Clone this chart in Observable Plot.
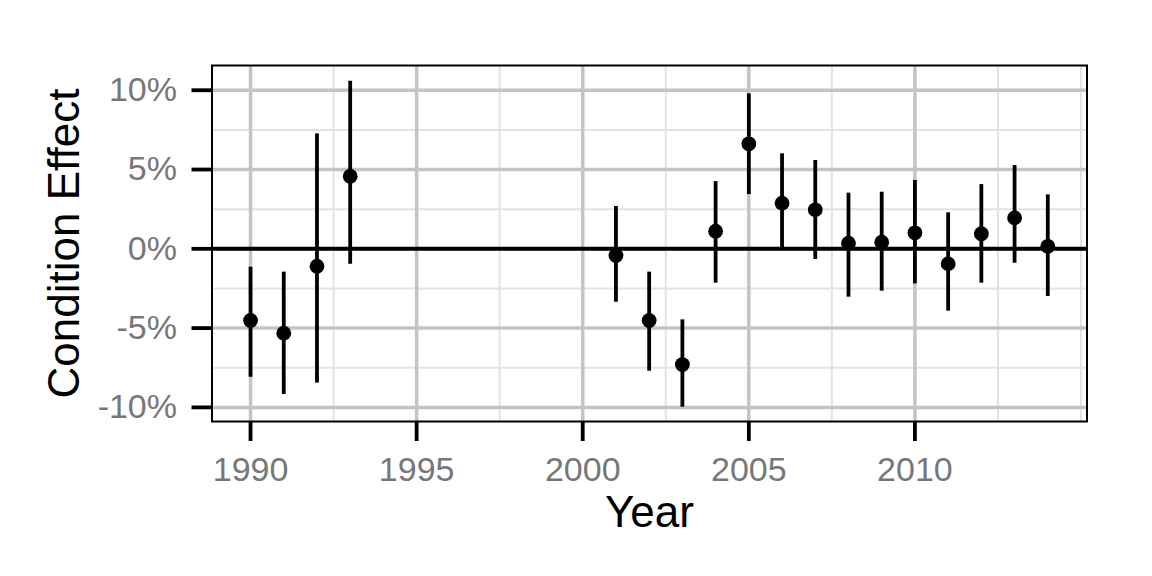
<!DOCTYPE html>
<html>
<head>
<meta charset="utf-8">
<script src="https://cdn.jsdelivr.net/npm/d3@7"></script>
<script src="https://cdn.jsdelivr.net/npm/@observablehq/plot@0.6"></script>
<style>
  html, body { margin: 0; padding: 0; background: #fff; }
</style>
</head>
<body>
<div id="chart"></div>
<script>
// Data (percent)
const years     = [1990, 1991, 1992, 1993, 2001, 2002, 2003, 2004, 2005, 2006, 2007, 2008, 2009, 2010, 2011, 2012, 2013, 2014];
const estimate  = [-4.52, -5.32, -1.10, 4.58, -0.42, -4.52, -7.30, 1.11, 6.62, 2.88, 2.46, 0.35, 0.42, 1.01, -0.95, 0.95, 1.95, 0.16];
const lower     = [-8.10, -9.19, -8.47, -0.97, -3.37, -7.72, -9.99, -2.17, 3.42, 0.00, -0.67, -3.05, -2.67, -2.21, -3.93, -2.17, -0.91, -3.01];
const upper     = [-1.16, -1.47, 7.25, 10.57, 2.67, -1.47, -4.48, 4.24, 9.77, 5.99, 5.57, 3.51, 3.57, 4.31, 2.27, 4.05, 5.25, 3.40];

const xTicks = [1990, 1995, 2000, 2005, 2010];
const xMinor = [1992.5, 1997.5, 2002.5, 2007.5, 2012.5, 2015];
const yTicks = [-10, -5, 0, 5, 10];
const yMinor = [-7.5, -2.5, 2.5, 7.5];

const data = years.map((y, i) => ({year: y, est: estimate[i], lo: lower[i], hi: upper[i]}));

const chart = Plot.plot({
  width: 1152,
  height: 576,
  marginLeft: 211.5,
  marginRight: 65.5,
  marginTop: 65,
  marginBottom: 155,
  style: {fontFamily: "'Liberation Sans', Arial, Helvetica, sans-serif", fontSize: "34px", background: "#fff"},
  x: {domain: [1988.84, 2015.18], label: null},
  y: {domain: [-10.89, 11.56], label: null},
  marks: [
    Plot.ruleX(xMinor, {stroke: "#e3e3e3", strokeWidth: 2}),
    Plot.ruleY(yMinor, {stroke: "#e3e3e3", strokeWidth: 2}),
    Plot.ruleX(xTicks, {stroke: "#c4c4c4", strokeWidth: 3.5}),
    Plot.ruleY(yTicks, {stroke: "#c4c4c4", strokeWidth: 3.5}),
    Plot.ruleY([0], {stroke: "#000", strokeWidth: 4}),
    Plot.ruleX(data, {x: "year", y1: "lo", y2: "hi", stroke: "#000", strokeWidth: 3.8}),
    Plot.dot(data, {x: "year", y: "est", r: 7.4, fill: "#000", stroke: "none"}),
    Plot.frame({stroke: "#000", strokeWidth: 2}),
    Plot.axisX(xTicks, {tickSize: 20, tickPadding: 15.5, stroke: "#000", strokeWidth: 3.8, fill: "#777", tickFormat: d => `${d}`, label: null}),
    Plot.axisY(yTicks, {tickSize: 20, tickPadding: 15, stroke: "#000", strokeWidth: 3.8, fill: "#777", tickFormat: d => `${d}%`, label: null}),
    Plot.text(["Year"], {frameAnchor: "bottom", lineAnchor: "middle", textAnchor: "middle", dy: 91, fontSize: 44, fill: "#000"}),
    Plot.text(["Condition Effect"], {frameAnchor: "left", textAnchor: "middle", lineAnchor: "middle", dx: -147.5, rotate: -90, fontSize: 44, fill: "#000"})
  ]
});
document.getElementById("chart").appendChild(chart);
</script>
</body>
</html>
